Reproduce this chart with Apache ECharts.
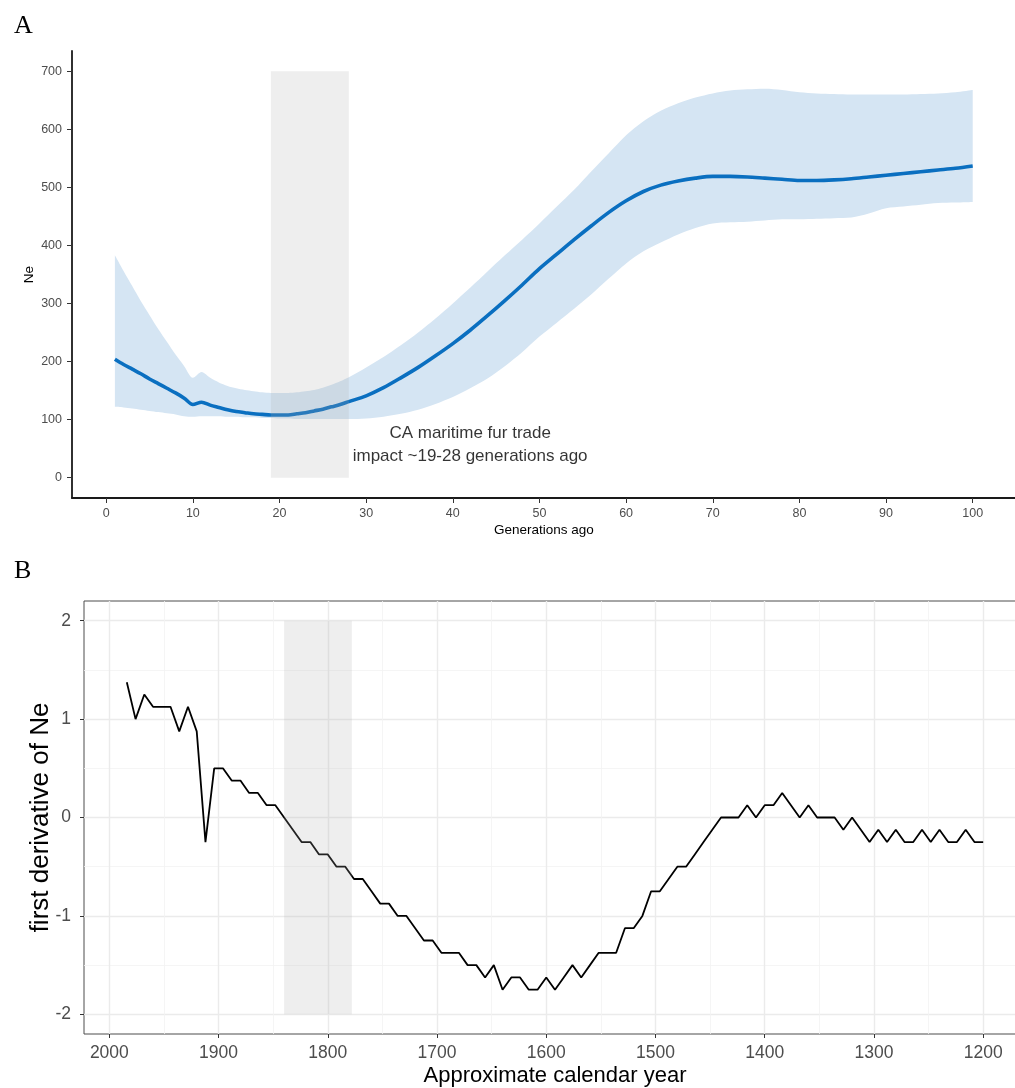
<!DOCTYPE html>
<html>
<head>
<meta charset="utf-8">
<script src="https://cdn.jsdelivr.net/npm/echarts@6/dist/echarts.min.js"></script>
<style>
html,body{margin:0;padding:0;background:#fff;overflow:hidden;}
#chart{width:1026px;height:1088px;}
</style>
</head>
<body>
<div id="chart"></div>
<script>
// ---------- Panel A data ----------
const generations = [1,2,3,4,5,6,7,8,9,10,11,12,13,14,15,16,17,18,19,20,21,22,23,24,25,26,27,28,30,32,34,36,38,40,42,44,46,48,50,52,54,56,58,60,62,64,66,68,70,72,74,76,78,80,82,84,86,88,90,92,94,96,98,100];
const neMean  = [204,195,187,179,170,162,154,146,137,126,130,125,121,117,114,112,110,109,108,108,108,110,112,115,118,122,126,131,141,155,172,190,210,231,254,279,305,332,360,385,410,434,457,477,493,504,511,516,519,519,518,516,514,512,512,513,515,518,521,524,527,530,533,537];
const neUpper = [383,356,330,304,280,256,234,212,192,172,182,172,164,158,154,151,149,147,146,146,146,147,149,151,155,160,166,173,190,208,228,250,274,300,327,355,383,410,438,467,496,528,559,590,614,632,645,655,662,667,669,670,668,664,662,661,660,660,660,660,661,662,664,668];
const neLower = [122,121,119,117,115,113,111,109,106,105,106,106,106,105,105,104,104,103,103,102,102,101,101,101,101,101,101,101,102,105,110,117,127,139,154,171,192,216,243,267,291,316,343,369,390,405,419,430,438,440,441,443,445,445,446,447,448,455,464,467,470,473,474,475];
const genTicks = [0,10,20,30,40,50,60,70,80,90,100];
const neTicks = [0,100,200,300,400,500,600,700];
const shadeAGen = [19, 28];
const shadeANe = [0, 700];
const annotGen = [42];
const annotNe = [56];
const annotText = ['CA maritime fur trade', 'impact ~19-28 generations ago'];

// ---------- Panel B data ----------
const years = [1984,1976,1968,1960,1952,1944,1936,1928,1920,1912,1904,1896,1888,1880,1872,1864,1856,1848,1840,1832,1824,1816,1808,1800,1792,1784,1776,1768,1760,1752,1744,1736,1728,1720,1712,1704,1696,1688,1680,1672,1664,1656,1648,1640,1632,1624,1616,1608,1600,1592,1584,1576,1568,1560,1552,1544,1536,1528,1520,1512,1504,1496,1488,1480,1472,1464,1456,1448,1440,1432,1424,1416,1408,1400,1392,1384,1376,1368,1360,1352,1344,1336,1328,1320,1312,1304,1296,1288,1280,1272,1264,1256,1248,1240,1232,1224,1216,1208,1200];
const derivative = [1.375,1.0,1.25,1.125,1.125,1.125,0.875,1.125,0.875,-0.25,0.5,0.5,0.375,0.375,0.25,0.25,0.125,0.125,0,-0.125,-0.25,-0.25,-0.375,-0.375,-0.5,-0.5,-0.625,-0.625,-0.75,-0.875,-0.875,-1.0,-1.0,-1.125,-1.25,-1.25,-1.375,-1.375,-1.375,-1.5,-1.5,-1.625,-1.5,-1.75,-1.625,-1.625,-1.75,-1.75,-1.625,-1.75,-1.625,-1.5,-1.625,-1.5,-1.375,-1.375,-1.375,-1.125,-1.125,-1.0,-0.75,-0.75,-0.625,-0.5,-0.5,-0.375,-0.25,-0.125,0,0,0,0.125,0,0.125,0.125,0.25,0.125,0,0.125,0,0,0,-0.125,0,-0.125,-0.25,-0.125,-0.25,-0.125,-0.25,-0.25,-0.125,-0.25,-0.125,-0.25,-0.25,-0.125,-0.25,-0.25];
const yearTicks = [2000,1900,1800,1700,1600,1500,1400,1300,1200];
const yearMinor = [1950,1850,1750,1650,1550,1450,1350,1250];
const derivTicks = [-2,-1,0,1,2];
const derivMinor = [-1.5,-0.5,0.5,1.5];
const shadeBYear = [1840, 1778];
const shadeBDeriv = [-2, 2];

// ---------- build ----------
const SANS = 'Liberation Sans';
const SHADE = 'rgba(170,170,170,0.2)';

function rectItem(params, api) {
  const p0 = api.coord([api.value(0), api.value(2)]);
  const p1 = api.coord([api.value(1), api.value(3)]);
  return {
    type: 'rect',
    shape: {
      x: Math.min(p0[0], p1[0]), y: Math.min(p0[1], p1[1]),
      width: Math.abs(p1[0] - p0[0]), height: Math.abs(p1[1] - p0[1])
    },
    style: { fill: SHADE }
  };
}

const chart = echarts.init(document.getElementById('chart'), null, {renderer: 'canvas'});

const option = {
  animation: false,
  backgroundColor: '#ffffff',
  title: [
    {text: 'A', left: 9, top: 8, textStyle: {fontFamily: 'Liberation Serif', fontSize: 26, fontWeight: 'normal', color: '#000'}},
    {text: 'B', left: 9, top: 553, textStyle: {fontFamily: 'Liberation Serif', fontSize: 26, fontWeight: 'normal', color: '#000'}}
  ],
  grid: [
    {left: 72, right: 10.4, top: 51, bottom: 590, show: false},
    {left: 84, right: 0, top: 601, bottom: 54, show: true, borderColor: '#4d4d4d', borderWidth: 1, backgroundColor: 'transparent'}
  ],
  xAxis: [
    {
      type: 'value', gridIndex: 0, min: -3.95, max: 104.95, z: 10,
      axisLine: {show: true, onZero: false, lineStyle: {color: '#1a1a1a', width: 1.8}},
      axisTick: {show: true, length: 5, customValues: genTicks, lineStyle: {color: '#333', width: 1}},
      axisLabel: {customValues: genTicks, color: '#4D4D4D', fontSize: 12.5, margin: 9, fontFamily: SANS},
      splitLine: {show: false},
      name: 'Generations ago', nameLocation: 'middle', nameGap: 25,
      nameTextStyle: {fontSize: 13.5, color: '#000', fontFamily: SANS}
    },
    {
      type: 'value', gridIndex: 1, min: 1160.8, max: 2023.2, inverse: true, position: 'bottom',
      axisLine: {show: false, onZero: false},
      axisTick: {show: true, length: 4, customValues: yearTicks, lineStyle: {color: '#333', width: 1}},
      axisLabel: {customValues: yearTicks, formatter: v => String(v), color: '#4D4D4D', fontSize: 17.5, margin: 10, fontFamily: SANS},
      splitLine: {show: true, lineStyle: {color: '#EBEBEB', width: 1.4}},
      name: 'Approximate calendar year', nameLocation: 'middle', nameGap: 31,
      nameTextStyle: {fontSize: 22, color: '#000', fontFamily: SANS}
    },
    {
      type: 'value', gridIndex: 1, min: 1160.8, max: 2023.2, inverse: true, position: 'top',
      axisLine: {show: false, onZero: false},
      axisTick: {show: false, customValues: yearMinor},
      axisLabel: {show: false},
      splitLine: {show: true, lineStyle: {color: '#F2F2F2', width: 0.8}}
    }
  ],
  yAxis: [
    {
      type: 'value', gridIndex: 0, min: -35, max: 735, z: 10,
      axisLine: {show: true, onZero: false, lineStyle: {color: '#1a1a1a', width: 1.8}},
      axisTick: {show: true, length: 5, customValues: neTicks, lineStyle: {color: '#333', width: 1}},
      axisLabel: {customValues: neTicks, color: '#4D4D4D', fontSize: 12.5, margin: 10, fontFamily: SANS},
      splitLine: {show: false},
      name: 'Ne', nameLocation: 'middle', nameGap: 36, nameRotate: 90, nameMoveOverlap: false,
      nameTextStyle: {fontSize: 13.5, color: '#000', fontFamily: SANS}
    },
    {
      type: 'value', gridIndex: 1, min: -2.2, max: 2.2,
      axisLine: {show: false, onZero: false},
      axisTick: {show: true, length: 4, customValues: derivTicks, lineStyle: {color: '#333', width: 1}},
      axisLabel: {customValues: derivTicks, color: '#4D4D4D', fontSize: 17.5, margin: 13, fontFamily: SANS},
      splitLine: {show: true, lineStyle: {color: '#EBEBEB', width: 1.4}},
      name: 'first derivative of Ne', nameLocation: 'middle', nameGap: 30, nameRotate: 90, nameMoveOverlap: false,
      nameTextStyle: {fontSize: 26, color: '#000', fontFamily: SANS}
    },
    {
      type: 'value', gridIndex: 1, min: -2.2, max: 2.2, position: 'right',
      axisLine: {show: false, onZero: false},
      axisTick: {show: false, customValues: derivMinor},
      axisLabel: {show: false},
      splitLine: {show: true, lineStyle: {color: '#F2F2F2', width: 0.8}}
    }
  ],
  series: [
    {
      // lower bound of the interval (stack base); y value first so that y is the stacked dimension
      name: 'lower', type: 'line', xAxisIndex: 0, yAxisIndex: 0, stack: 'ci',
      data: generations.map((g, i) => [neLower[i], g]),
      encode: {x: 1, y: 0},
      symbol: 'none', smooth: 0.3, lineStyle: {width: 0, opacity: 0}, z: 1, silent: true
    },
    {
      name: 'band', type: 'line', xAxisIndex: 0, yAxisIndex: 0, stack: 'ci',
      data: generations.map((g, i) => [neUpper[i] - neLower[i], g]),
      encode: {x: 1, y: 0},
      symbol: 'none', smooth: 0.3, lineStyle: {width: 0, opacity: 0},
      areaStyle: {color: '#D5E5F3', opacity: 1}, z: 1, silent: true
    },
    {
      name: 'Ne', type: 'line', xAxisIndex: 0, yAxisIndex: 0,
      data: generations.map((g, i) => [g, neMean[i]]),
      symbol: 'none', smooth: 0.3, lineStyle: {color: '#0A6FC0', width: 3.6}, z: 3
    },
    {
      name: 'shadeA', type: 'custom', xAxisIndex: 0, yAxisIndex: 0,
      data: [[shadeAGen[0], shadeAGen[1], shadeANe[0], shadeANe[1]]],
      encode: {x: [0, 1], y: [2, 3]}, renderItem: rectItem, z: 4, silent: true
    },
    {
      name: 'annotation', type: 'scatter', xAxisIndex: 0, yAxisIndex: 0,
      data: annotGen.map((g, i) => [g, annotNe[i]]),
      symbolSize: 0, itemStyle: {color: '#000'}, z: 5, silent: true,
      label: {
        show: true, position: 'inside', formatter: annotText.join('\n'),
        fontSize: 17, lineHeight: 23, color: '#000', fontFamily: SANS, align: 'center',
        textBorderWidth: 0
      }
    },
    {
      name: 'derivative', type: 'line', xAxisIndex: 1, yAxisIndex: 1,
      data: years.map((y, i) => [y, derivative[i]]),
      symbol: 'none', lineStyle: {color: '#000', width: 1.8}, z: 3
    },
    {
      name: 'shadeB', type: 'custom', xAxisIndex: 1, yAxisIndex: 1,
      data: [[shadeBYear[0], shadeBYear[1], shadeBDeriv[0], shadeBDeriv[1]]],
      encode: {x: [0, 1], y: [2, 3]}, renderItem: rectItem, z: 4, silent: true
    }
  ]
};
chart.setOption(option);
</script>
</body>
</html>
